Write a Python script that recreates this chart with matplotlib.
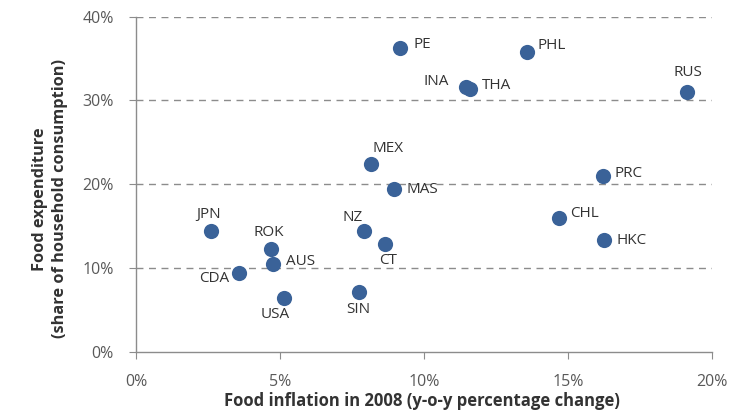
import numpy as np
import matplotlib
matplotlib.use("Agg")
import matplotlib.pyplot as plt
from matplotlib.ticker import FuncFormatter

# data (% values)
countries = ["PE", "PHL", "INA", "THA", "RUS", "MEX", "MAS", "PRC", "CHL", "HKC",
             "CT", "NZ", "JPN", "ROK", "AUS", "CDA", "USA", "SIN"]
food_infl = [9.17, 13.57, 11.47, 11.58, 19.13, 8.15, 8.96, 16.2, 14.7, 16.26,
             8.65, 7.92, 2.6, 4.68, 4.75, 3.58, 5.15, 7.76]
food_share = [36.3, 35.8, 31.6, 31.4, 31.0, 22.4, 19.4, 21.0, 16.0, 13.3,
              12.9, 14.4, 14.4, 12.3, 10.5, 9.4, 6.4, 7.1]

# label offsets in pixels (dx, dy, ha)
offsets = {
    "PE": (13, 3, "left"), "PHL": (11, 6, "left"), "INA": (-17, 6, "right"),
    "THA": (12, 3, "left"), "RUS": (1, 20, "center"), "MEX": (2, 16, "left"),
    "MAS": (12, 0, "left"), "PRC": (12, 2, "left"), "CHL": (11, 4, "left"),
    "HKC": (12, 0, "left"), "CT": (3, -17, "center"), "NZ": (-11, 14, "center"),
    "JPN": (-2, 17, "center"), "ROK": (-2, 16, "center"), "AUS": (13, 2, "left"),
    "CDA": (-10, -6, "right"), "USA": (-9, -16, "center"), "SIN": (-1, -17, "center"),
}

plt.rcParams['font.family'] = ['Open Sans', 'DejaVu Sans']

fig = plt.figure(figsize=(7.37, 4.13), dpi=100)
ax = fig.add_axes([136/737, 1-351.7/413, 576/737, 335/413])

ax.scatter(food_infl, food_share, s=120, color="#3A6298", zorder=3, linewidths=0)
for c, x, y in zip(countries, food_infl, food_share):
    dx, dy, ha = offsets[c]
    ax.annotate(c, (x, y), xytext=(dx, dy), textcoords="offset pixels",
                ha=ha, va="center", fontsize=11, color="#333333")

ax.set_xlim(0, 20)
ax.set_ylim(0, 40)
ax.set_xticks([0, 5, 10, 15, 20])
ax.set_yticks([0, 10, 20, 30, 40])
pct = FuncFormatter(lambda v, p: f"{v:.0f}%")
ax.xaxis.set_major_formatter(pct)
ax.yaxis.set_major_formatter(pct)
for yv in [10, 20, 30, 40]:
    ax.axhline(yv, color="#8c8c8c", lw=1, dashes=(5, 4), zorder=1)

for s in ["top", "right"]:
    ax.spines[s].set_visible(False)
for s in ["left", "bottom"]:
    ax.spines[s].set_color("#8c8c8c")
    ax.spines[s].set_linewidth(1)
ax.tick_params(axis="x", length=5, color="#8c8c8c", pad=11, labelsize=11.5, labelcolor="#595959")
ax.tick_params(axis="y", length=5, color="#8c8c8c", pad=11, labelsize=11.5, labelcolor="#595959")

fig.text(422/737, 1-401/413, "Food inflation in 2008 (y-o-y percentage change)",
         ha="center", va="center", fontsize=12, fontweight="bold", color="#333333")
fig.text(50/737, 1-199/413, "Food expenditure\n(share of household consumption)",
         ha="center", va="center", rotation=90, multialignment="center",
         fontsize=11.8, fontweight="bold", color="#333333", linespacing=1.3)

fig.savefig("out.png", dpi=100)
